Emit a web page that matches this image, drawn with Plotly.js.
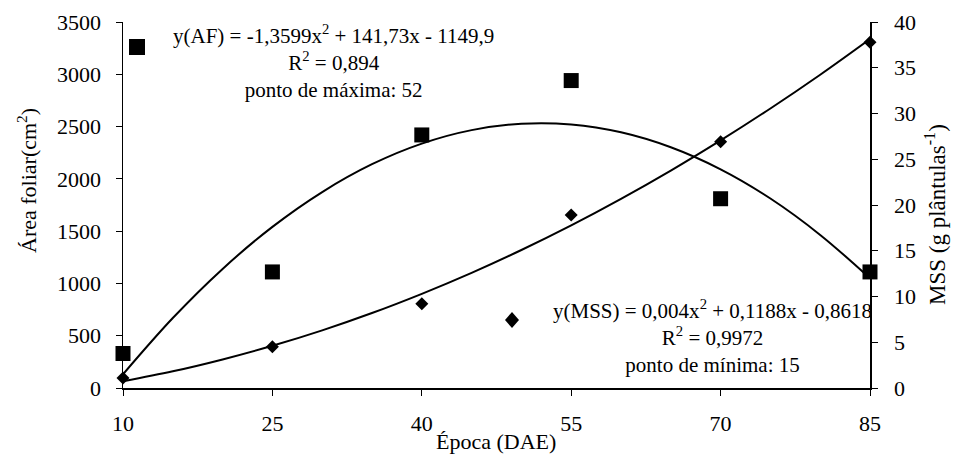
<!DOCTYPE html>
<html>
<head>
<meta charset="utf-8">
<script src="https://cdn.plot.ly/plotly-3.0.1.min.js"></script>
<style>html,body{margin:0;padding:0;background:#fff;}#chart{width:955px;height:457px;}</style>
</head>
<body>
<div id="chart"></div>
<script>
// Observed data
const epoca = [10, 25, 40, 55, 70, 85];
const areaFoliar = [330, 1110, 2420, 2940, 1810, 1110];
const mss = [1.1, 4.5, 9.2, 18.9, 26.9, 37.8];

// Trend curves
const curveX = [10, 15, 20, 25, 30, 35, 40, 45, 50, 55, 60, 65, 70, 75, 80, 85];
const curveAF = [131, 669, 1139, 1541, 1874, 2140, 2337, 2466, 2527, 2520, 2445, 2302, 2091, 1812, 1464, 1049];
const curveMSS = [0.73, 1.82, 3.12, 4.61, 6.30, 8.19, 10.29, 12.58, 15.08, 17.77, 20.67, 23.76, 27.06, 30.55, 34.24, 38.14];

const xTicks = [10, 25, 40, 55, 70, 85];

const serif = '"Liberation Serif", "Times New Roman", Times, serif';

const traces = [
  {x: curveX, y: curveAF, type: 'scatter', mode: 'lines', line: {color: '#000', width: 2, shape: 'spline'}, yaxis: 'y', showlegend: false, hoverinfo: 'skip'},
  {x: curveX, y: curveMSS, type: 'scatter', mode: 'lines', line: {color: '#000', width: 2, shape: 'spline'}, yaxis: 'y2', showlegend: false, hoverinfo: 'skip'},
  {x: epoca, y: areaFoliar, type: 'scatter', mode: 'markers', marker: {symbol: 'square', size: 15, color: '#000'}, yaxis: 'y', showlegend: false, cliponaxis: false},
  {x: epoca, y: mss, type: 'scatter', mode: 'markers', marker: {symbol: 'diamond', size: 10, color: '#000'}, yaxis: 'y2', showlegend: false, cliponaxis: false}
];

const tickFont = {family: serif, size: 22, color: '#000'};
const noteFont = {family: serif, size: 21, color: '#000'};

// paper-coordinate helpers for the decorations (plot area 123..870 x 22..388 px)
function px(x) { return (x - 123) / 747; }
function py(y) { return (388 - y) / 366; }

const layout = {
  width: 955, height: 457,
  margin: {l: 123, r: 85, t: 22, b: 69},
  paper_bgcolor: '#fff', plot_bgcolor: '#fff',
  font: {family: serif, size: 20, color: '#000'},
  xaxis: {
    range: [10, 85], tickvals: xTicks, ticktext: xTicks.map(String),
    showgrid: false, zeroline: false, showline: true, linecolor: '#000', linewidth: 1.5,
    ticks: 'outside', ticklen: 6, tickcolor: '#000', tickfont: tickFont, ticklabelstandoff: 9
  },
  yaxis: {
    range: [0, 3500], dtick: 500, showgrid: false, zeroline: false,
    showline: true, linecolor: '#000', linewidth: 1.5,
    ticks: 'outside', ticklen: 6, tickcolor: '#000', tickfont: tickFont, ticklabelstandoff: 10
  },
  yaxis2: {
    range: [0, 40], dtick: 5, overlaying: 'y', side: 'right', showgrid: false, zeroline: false,
    showline: true, linecolor: '#000', linewidth: 1.5,
    ticks: 'outside', ticklen: 6, tickcolor: '#000', tickfont: tickFont, ticklabelstandoff: 12
  },
  annotations: [
    {xref: 'paper', yref: 'paper', x: px(496), y: py(441), xanchor: 'center', yanchor: 'middle',
     showarrow: false, text: 'Época (DAE)',
     font: {family: serif, size: 22, color: '#000'}},
    {xref: 'paper', yref: 'paper', x: px(27), y: py(181), xanchor: 'center', yanchor: 'middle',
     textangle: -90, showarrow: false, text: 'Área foliar(cm<sup>2</sup>)',
     font: {family: serif, size: 22, color: '#000'}},
    {xref: 'paper', yref: 'paper', x: px(935), y: py(215), xanchor: 'center', yanchor: 'middle',
     textangle: -90, showarrow: false, text: 'MSS (g plântulas<sup>-1</sup>)',
     font: {family: serif, size: 23, color: '#000'}},
    {xref: 'paper', yref: 'paper', x: px(333), y: py(61), xanchor: 'center', yanchor: 'middle',
     showarrow: false, align: 'center',
     text: 'y(AF) = -1,3599x<sup>2</sup> + 141,73x - 1149,9<br>R<sup>2</sup> = 0,894<br>ponto de máxima: 52',
     font: noteFont},
    {xref: 'paper', yref: 'paper', x: px(712), y: py(336), xanchor: 'center', yanchor: 'middle',
     showarrow: false, align: 'center',
     text: 'y(MSS) = 0,004x<sup>2</sup> + 0,1188x - 0,8618<br>R<sup>2</sup> = 0,9972<br>ponto de mínima: 15',
     font: noteFont}
  ],
  shapes: [
    {type: 'rect', xref: 'paper', yref: 'paper', x0: px(129), x1: px(145), y0: py(55), y1: py(39),
     fillcolor: '#000', line: {width: 0}},
    {type: 'path', xref: 'paper', yref: 'paper',
     path: 'M ' + px(505) + ',' + py(320) + ' L ' + px(512) + ',' + py(312) + ' L ' + px(519) + ',' + py(320) + ' L ' + px(512) + ',' + py(328) + ' Z',
     fillcolor: '#000', line: {width: 0}}
  ]
};

Plotly.newPlot('chart', traces, layout, {displayModeBar: false, staticPlot: true});
</script>
</body>
</html>
